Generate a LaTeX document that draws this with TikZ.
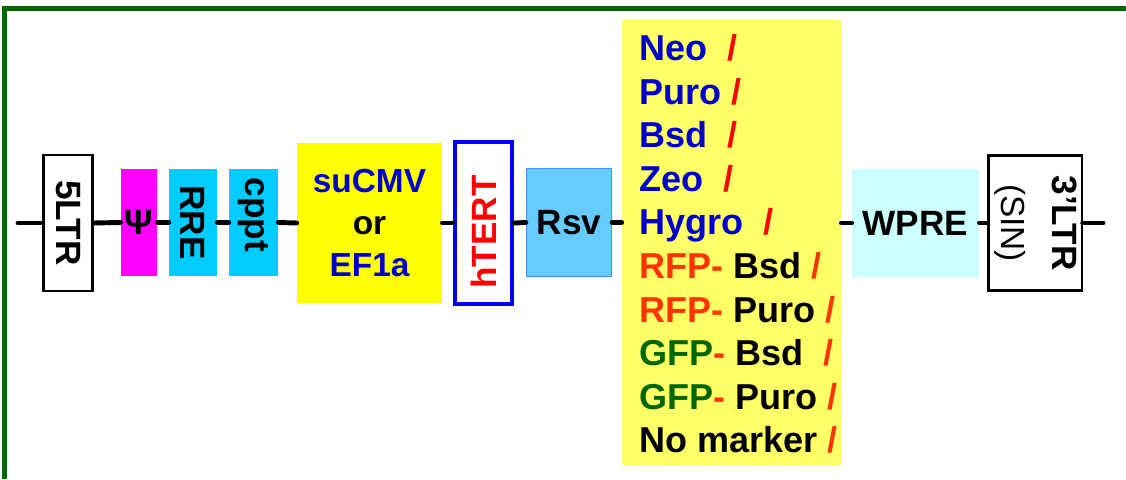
\documentclass[tikz,border=0pt]{standalone}
\usepackage{fontspec}
\setmainfont{Liberation Sans}
\definecolor{frame}{RGB}{0,102,0}
\definecolor{mblue}{RGB}{0,0,204}
\definecolor{sred}{RGB}{255,0,0}
\definecolor{rfp}{RGB}{255,51,0}
\definecolor{gfp}{RGB}{0,102,0}
\definecolor{magentabox}{RGB}{255,0,255}
\definecolor{cyanbox}{RGB}{0,204,255}
\definecolor{promyellow}{RGB}{255,255,0}
\definecolor{markyellow}{RGB}{255,255,102}
\definecolor{rsvblue}{RGB}{102,204,255}
\definecolor{rsvedge}{RGB}{51,153,255}
\definecolor{wprecyan}{RGB}{204,255,255}
\begin{document}
\begin{tikzpicture}[part/.style = {rectangle, inner sep=0, font=\fontsize{20}{24}\selectfont\bfseries}, ltr/.style = {part, draw=black, line width=1.2pt, fill=white}, link/.style = {line width=2.8pt, line cap=round}]
  \useasboundingbox (0, 0) rectangle (22.52, 9.58);
  \draw[frame, line width=2.4pt] (0.09, 0) -- (0.09, 9.41) -- (22.52, 9.41);
  \coordinate (left end) at (0.36, 5.12);
  \coordinate (right end) at (22.06, 5.12);
  \node[ltr, minimum width=0.98cm, minimum height=2.72cm] at (1.36, 5.12) (ltr5) {\rotatebox{-90}{5LTR}};
  \node[part, fill=magentabox, minimum width=0.72cm, minimum height=2.14cm] at (2.78, 5.13) (psi) {Ψ};
  \node[part, fill=cyanbox, minimum width=0.96cm, minimum height=2.14cm] at (3.86, 5.13) (rre) {\rotatebox{-90}{RRE}};
  \node[part, fill=cyanbox, minimum width=0.98cm, minimum height=2.14cm] at (5.07, 5.13) (cppt) {\rotatebox{-90}{cppt\hspace{0.3cm}}};
  \node[part, fill=promyellow, minimum width=2.9cm, minimum height=3.2cm, align=center, font=\fontsize{19}{23.9}\selectfont\bfseries] at (7.39, 5.12) (prom) {\textcolor{mblue}{suCMV}\\or\\\textcolor{mblue}{EF1a}};
  \node[part, draw=blue, line width=2.5pt, fill=white, minimum width=1.14cm, minimum height=3.24cm, text=sred] at (9.67, 5.12) (htert) {\rotatebox{90}{hTERT\hspace{0.36cm}}};
  \node[part, draw=rsvedge, line width=0.8pt, fill=rsvblue, minimum width=1.7cm, minimum height=2.16cm] at (11.38, 5.13) (rsv) {Rsv};
  \node[part, fill=markyellow, minimum width=4.38cm, minimum height=8.9cm] at (14.63, 4.73) (marker) {};
  \node[part, align=left, font=\fontsize{20.5}{24.8}\selectfont\bfseries] at ([xshift=0.14cm, yshift=-0.03cm]marker.center) (marker list) {%
    \textcolor{mblue}{Neo}~~\textcolor{sred}{/}\\
    \textcolor{mblue}{Puro}~\textcolor{sred}{/}\\
    \textcolor{mblue}{Bsd}~~\textcolor{sred}{/}\\
    \textcolor{mblue}{Zeo}~~\textcolor{sred}{/}\\
    \textcolor{mblue}{Hygro}~~\textcolor{sred}{/}\\
    \textcolor{rfp}{RFP-}~Bsd~\textcolor{rfp}{/}\\
    \textcolor{rfp}{RFP-}~Puro~\textcolor{rfp}{/}\\
    \textcolor{gfp}{GFP}\textcolor{rfp}{-}~Bsd~~\textcolor{rfp}{/}\\
    \textcolor{gfp}{GFP}\textcolor{rfp}{-}~Puro~\textcolor{rfp}{/}\\
    No marker~\textcolor{rfp}{/}};
  \node[part, fill=wprecyan, minimum width=2.54cm, minimum height=2.16cm] at (18.31, 5.12) (wpre) {WPRE};
  \node[ltr, minimum width=1.84cm, minimum height=2.7cm] at (20.7, 5.12) (ltr3) {\rotatebox{-90}{\begin{tabular}{@{}c@{}}3’LTR\\[5pt]{\mdseries\fontsize{19}{20}\selectfont (SIN)}\end{tabular}}};
  \draw[link] (left end) -- (ltr5.west);
  \draw[link] (ltr5.east) -- (psi.west);
  \draw[link] (psi.east) -- (rre.west);
  \draw[link] (rre.east) -- (cppt.west);
  \draw[link] (cppt.east) -- (prom.west);
  \draw[link] (prom.east) -- (htert.west);
  \draw[link] (htert.east) -- (rsv.west);
  \draw[link] (rsv.east) -- (rsv.east -| marker.west);
  \draw[link] (wpre.west -| marker.east) -- (wpre.west);
  \draw[link] (wpre.east) -- (ltr3.west);
  \draw[link] (ltr3.east) -- (right end);
\end{tikzpicture}
\end{document}
